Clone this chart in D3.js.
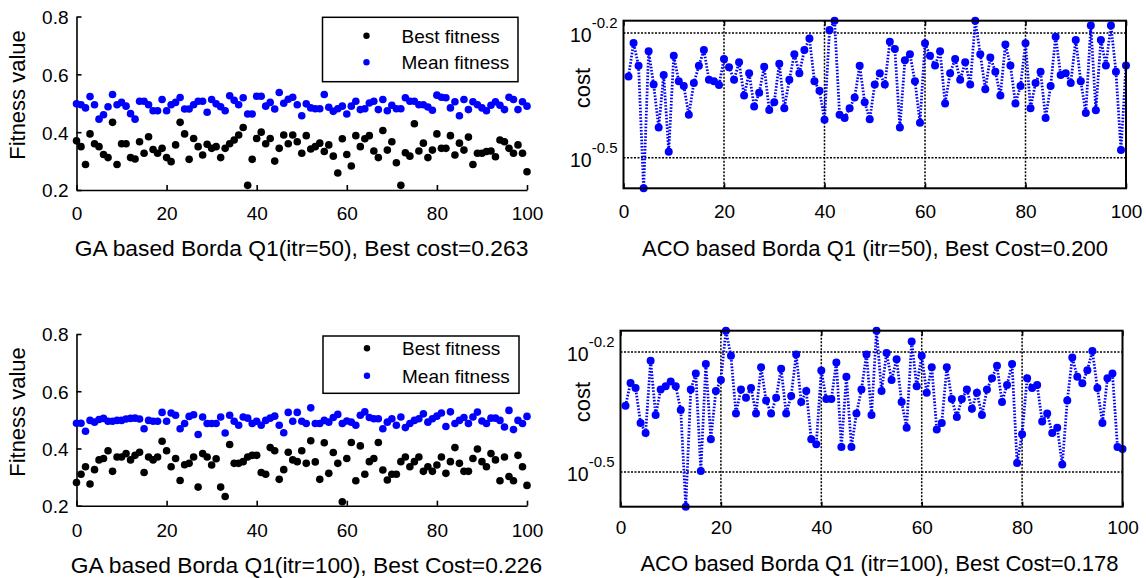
<!DOCTYPE html>
<html>
<head>
<meta charset="utf-8">
<script src="https://cdn.jsdelivr.net/npm/d3@7/dist/d3.min.js"></script>
<style>
body{margin:0;background:#fff}
svg{display:block}
</style>
</head>
<body>
<svg width="1146" height="578"></svg>
<script>
// tick values
var xTicks = [0,20,40,60,80,100]
var fitTicks = [0.2,0.4,0.6,0.8]
var costTickExp = [-0.5,-0.2]

// GA, itr=50 (iterations 0..100)
var gaBest50 = [0.370,0.35,0.288,0.394,0.36,0.35,0.323,0.312,0.434,0.288,
  0.36,0.36,0.312,0.307,0.367,0.327,0.384,0.34,0.327,0.344,
  0.312,0.298,0.356,0.434,0.394,0.306,0.378,0.35,0.321,0.358,
  0.344,0.35,0.312,0.344,0.36,0.373,0.39,0.416,0.216,0.306,
  0.378,0.40,0.36,0.378,0.3,0.344,0.39,0.36,0.39,0.367,
  0.327,0.388,0.342,0.35,0.362,0.333,0.356,0.317,0.259,0.377,
  0.323,0.283,0.388,0.35,0.377,0.388,0.335,0.312,0.406,0.338,
  0.367,0.294,0.216,0.329,0.317,0.429,0.335,0.362,0.312,0.338,
  0.394,0.344,0.344,0.388,0.321,0.362,0.338,0.383,0.288,0.327,
  0.327,0.333,0.335,0.315,0.373,0.367,0.344,0.327,0.356,0.327,
  0.263]
var gaMean50 = [0.498,0.495,0.484,0.523,0.495,0.445,0.46,0.488,0.53,0.495,
  0.503,0.49,0.464,0.445,0.507,0.507,0.495,0.474,0.474,0.513,
  0.474,0.495,0.503,0.52,0.48,0.48,0.495,0.507,0.507,0.469,
  0.513,0.498,0.488,0.474,0.526,0.51,0.495,0.519,0.463,0.463,
  0.524,0.524,0.49,0.503,0.48,0.537,0.5,0.514,0.521,0.495,
  0.457,0.498,0.484,0.481,0.481,0.530,0.486,0.472,0.481,0.49,
  0.463,0.49,0.507,0.478,0.481,0.501,0.507,0.478,0.513,0.474,
  0.493,0.481,0.481,0.519,0.507,0.507,0.495,0.495,0.487,0.476,
  0.528,0.521,0.519,0.484,0.505,0.457,0.513,0.478,0.505,0.495,
  0.484,0.474,0.493,0.505,0.493,0.478,0.521,0.513,0.478,0.505,
  0.49]

// ACO, itr=50 (iterations 1..100)
var acoCost50 = [0.496,0.597,0.526,0.267,0.570,0.474,0.374,0.500,0.327,0.556,
  0.483,0.470,0.401,0.478,0.526,0.574,0.487,0.483,0.473,0.546,
  0.522,0.487,0.536,0.446,0.505,0.420,0.453,0.523,0.412,0.430,
  0.532,0.416,0.487,0.561,0.505,0.574,0.612,0.483,0.458,0.390,
  0.641,0.675,0.401,0.394,0.416,0.441,0.526,0.430,0.391,0.474,
  0.505,0.474,0.601,0.577,0.374,0.542,0.561,0.483,0.384,0.596,
  0.556,0.527,0.570,0.427,0.505,0.546,0.487,0.536,0.474,0.675,
  0.561,0.462,0.551,0.509,0.446,0.592,0.527,0.427,0.470,0.596,
  0.416,0.478,0.509,0.394,0.470,0.618,0.500,0.505,0.478,0.607,
  0.483,0.405,0.657,0.411,0.607,0.527,0.657,0.509,0.330,0.527]

// GA, itr=100
var gaBest100 = [0.281,0.310,0.336,0.276,0.326,0.360,0.365,0.392,0.320,0.370,
  0.370,0.382,0.360,0.376,0.387,0.316,0.370,0.360,0.370,0.425,
  0.392,0.336,0.365,0.288,0.343,0.348,0.370,0.265,0.382,0.370,
  0.342,0.364,0.265,0.232,0.414,0.348,0.348,0.354,0.370,0.376,
  0.376,0.316,0.310,0.403,0.392,0.292,0.326,0.387,0.360,0.354,
  0.392,0.348,0.427,0.353,0.292,0.420,0.313,0.386,0.348,0.214,
  0.365,0.421,0.287,0.409,0.310,0.354,0.365,0.421,0.325,0.290,
  0.310,0.310,0.354,0.370,0.336,0.354,0.370,0.320,0.336,0.320,
  0.342,0.370,0.313,0.354,0.403,0.348,0.320,0.320,0.365,0.398,
  0.354,0.336,0.382,0.360,0.287,0.370,0.302,0.287,0.376,0.336,
  0.271]
var gaMean100 = [0.488,0.488,0.460,0.498,0.492,0.501,0.505,0.495,0.495,0.498,
  0.498,0.503,0.505,0.506,0.503,0.469,0.498,0.495,0.495,0.526,
  0.495,0.524,0.516,0.469,0.487,0.512,0.518,0.449,0.510,0.487,
  0.487,0.487,0.510,0.454,0.516,0.495,0.481,0.510,0.506,0.487,
  0.495,0.481,0.498,0.506,0.513,0.481,0.455,0.526,0.495,0.526,
  0.495,0.487,0.542,0.487,0.487,0.498,0.492,0.508,0.519,0.487,
  0.496,0.492,0.481,0.516,0.528,0.508,0.504,0.504,0.469,0.492,
  0.504,0.481,0.510,0.473,0.487,0.498,0.504,0.521,0.492,0.504,
  0.513,0.524,0.477,0.528,0.487,0.498,0.508,0.487,0.510,0.527,
  0.496,0.487,0.506,0.506,0.498,0.475,0.533,0.466,0.498,0.487,
  0.512]

// ACO, itr=100
var acoCost100 = [0.463,0.528,0.513,0.419,0.396,0.600,0.439,0.508,0.518,0.532,
  0.518,0.452,0.259,0.508,0.557,0.318,0.589,0.382,0.504,0.537,
  0.713,0.617,0.443,0.508,0.485,0.513,0.443,0.578,0.477,0.443,
  0.485,0.573,0.443,0.490,0.622,0.473,0.504,0.382,0.371,0.567,
  0.481,0.481,0.594,0.365,0.547,0.365,0.443,0.508,0.622,0.439,
  0.713,0.504,0.627,0.537,0.605,0.473,0.408,0.670,0.518,0.617,
  0.499,0.578,0.404,0.419,0.578,0.481,0.434,0.481,0.508,0.455,
  0.499,0.439,0.508,0.542,0.583,0.473,0.522,0.589,0.333,0.393,
  0.542,0.513,0.522,0.423,0.443,0.396,0.408,0.330,0.477,0.611,
  0.547,0.527,0.568,0.634,0.513,0.419,0.542,0.557,0.365,0.361]

var legendNames = ["Best fitness","Mean fitness"]

var font = '"Liberation Sans", Arial, Helvetica, sans-serif'
var blue = "#0000ff"
var svg = d3.select("svg").style("font-family", font)

var styleAxis = function(sel, size) {
    sel.attr("font-family", font).attr("font-size", size)
    sel.selectAll("path,line").attr("stroke", "#000").attr("stroke-width", 1.6)
    sel.selectAll("text").attr("fill", "#000")
}

var drawGA = function(p, best, mean, title) {
    var xScale = d3.scaleLinear().domain([0,100]).range([p.left, p.right])
    var yScale = d3.scaleLinear().domain([0.2,0.8]).range([p.bottom, p.top])
    var g = svg.append("g")

    var xa = g.append("g")
        .attr("transform","translate(0,"+p.bottom+")")
        .call(d3.axisBottom(xScale).tickValues(xTicks).tickSizeInner(-5).tickSizeOuter(0))
    styleAxis(xa, 19)
    xa.selectAll("text").attr("dy", null).attr("y", p.tickBase - p.bottom)

    var ya = g.append("g")
        .attr("transform","translate("+p.left+",0)")
        .call(d3.axisLeft(yScale).tickValues(fitTicks).tickFormat(d3.format(".1f"))
            .tickSizeInner(-5).tickSizeOuter(0).tickPadding(8))
    styleAxis(ya, 19)
    ya.selectAll("text").attr("dy", "0.36em")

    g.selectAll(".best")
        .data(best)
        .enter()
        .append("circle")
        .attr("cx", function(d,i){ return xScale(i) })
        .attr("cy", function(d){ return yScale(d) })
        .attr("r", 3.8)
        .attr("fill", "#000")

    g.selectAll(".mean")
        .data(mean)
        .enter()
        .append("circle")
        .attr("cx", function(d,i){ return xScale(i) })
        .attr("cy", function(d){ return yScale(d) })
        .attr("r", 3.8)
        .attr("fill", blue)

    // legend
    var lg = g.append("g")
    lg.append("rect")
        .attr("x", p.leg.x).attr("y", p.leg.y)
        .attr("width", p.leg.w).attr("height", p.leg.h)
        .attr("fill", "#fff").attr("stroke", "#000").attr("stroke-width", 1.5)
    lg.selectAll("circle")
        .data(legendNames)
        .enter()
        .append("circle")
        .attr("cx", p.leg.x + 44)
        .attr("cy", function(d,i){ return p.leg.row0 + i*p.leg.gap })
        .attr("r", 3.2)
        .attr("fill", function(d,i){ return i == 0 ? "#000" : blue })
    lg.selectAll("text")
        .data(legendNames)
        .enter()
        .append("text")
        .attr("x", p.leg.x + 79)
        .attr("y", function(d,i){ return p.leg.row0 + i*p.leg.gap + 7 })
        .attr("font-size", 19)
        .text(function(d){ return d })

    g.append("text")
        .attr("transform", "translate(25,"+p.ylabY+") rotate(-90)")
        .attr("text-anchor", "middle")
        .attr("font-size", 22)
        .text("Fitness value")

    g.append("text")
        .attr("x", p.titleX).attr("y", p.titleY)
        .attr("text-anchor", "middle")
        .attr("font-size", 22.8)
        .text(title)
}

var drawACO = function(p, cost, title) {
    var xScale = d3.scaleLinear().domain([0,100]).range([p.left, p.right])
    var yScale = d3.scaleLog().domain(d3.extent(cost)).range([p.bottom, p.top])
    var g = svg.append("g")

    // grid
    g.selectAll(".vgrid")
        .data(xTicks.slice(1, -1))
        .enter()
        .append("line")
        .attr("x1", function(d){ return xScale(d) })
        .attr("x2", function(d){ return xScale(d) })
        .attr("y1", p.top).attr("y2", p.bottom)
        .attr("stroke", "#000").attr("stroke-width", 1.5)
        .attr("stroke-dasharray", "2,1.5")
    g.selectAll(".hgrid")
        .data(costTickExp)
        .enter()
        .append("line")
        .attr("x1", p.left).attr("x2", p.right)
        .attr("y1", function(d){ return yScale(Math.pow(10, d)) })
        .attr("y2", function(d){ return yScale(Math.pow(10, d)) })
        .attr("stroke", "#000").attr("stroke-width", 1.5)
        .attr("stroke-dasharray", "2,1.5")

    var xa = g.append("g")
        .attr("transform","translate(0,"+p.bottom+")")
        .call(d3.axisBottom(xScale).tickValues(xTicks).tickSizeInner(-5).tickSizeOuter(0))
    styleAxis(xa, 19)
    xa.select(".domain").remove()
    xa.selectAll("text").attr("dy", null).attr("y", p.tickBase - p.bottom)

    var xt = g.append("g")
        .attr("transform","translate(0,"+p.top+")")
        .call(d3.axisTop(xScale).tickValues(xTicks).tickSizeInner(-5).tickSizeOuter(0).tickFormat(""))
    styleAxis(xt, 19)
    xt.select(".domain").remove()

    // y tick labels 10^e
    var yl = g.selectAll(".ylab")
        .data(costTickExp)
        .enter()
        .append("text")
        .attr("x", p.left - 6)
        .attr("y", function(d){ return yScale(Math.pow(10, d)) + 9 })
        .attr("text-anchor", "end")
        .attr("font-size", 19.5)
    yl.append("tspan").text("10")
    yl.append("tspan")
        .attr("dy", -14)
        .attr("font-size", 15)
        .text(function(d){ return d.toFixed(1) })

    var line = d3.line()
        .x(function(d,i){ return xScale(i+1) })
        .y(function(d){ return yScale(d) })
    g.append("path")
        .datum(cost)
        .attr("d", line)
        .attr("fill", "none")
        .attr("stroke", blue)
        .attr("stroke-width", 2.8)
        .attr("stroke-dasharray", "1.6,1.6")

    g.selectAll(".pt")
        .data(cost)
        .enter()
        .append("circle")
        .attr("cx", function(d,i){ return xScale(i+1) })
        .attr("cy", function(d){ return yScale(d) })
        .attr("r", 4)
        .attr("fill", blue)

    g.append("rect")
        .attr("x", p.left).attr("y", p.top)
        .attr("width", p.right - p.left).attr("height", p.bottom - p.top)
        .attr("fill", "none").attr("stroke", "#000").attr("stroke-width", 2)

    g.append("text")
        .attr("transform", "translate(590,"+p.ylabY+") rotate(-90)")
        .attr("text-anchor", "middle")
        .attr("font-size", 22)
        .text("cost")

    g.append("text")
        .attr("x", p.titleX).attr("y", p.titleY)
        .attr("text-anchor", "middle")
        .attr("font-size", 22)
        .text(title)
}

drawGA({left:76.5, right:527, top:16.5, bottom:190, tickBase:220, ylabY:95,
        titleX:301.5, titleY:256,
        leg:{x:322.5, y:17.3, w:195.5, h:64.4, row0:35.7, gap:26.6}},
    gaBest50, gaMean50, "GA based Borda Q1(itr=50), Best cost=0.263")

drawACO({left:623.5, right:1126, top:20.7, bottom:188.3, tickBase:218, ylabY:88,
         titleX:875, titleY:256},
    acoCost50, "ACO based Borda Q1 (itr=50), Best Cost=0.200")

drawGA({left:76.5, right:527, top:334, bottom:505.7, tickBase:537, ylabY:412,
        titleX:306.5, titleY:573,
        leg:{x:323, y:336, w:196, h:57.3, row0:348.3, gap:27.4}},
    gaBest100, gaMean100, "GA based Borda Q1(itr=100), Best Cost=0.226")

drawACO({left:620.5, right:1122.5, top:330.7, bottom:506.7, tickBase:534, ylabY:402,
         titleX:879.5, titleY:571},
    acoCost100, "ACO based Borda Q1 (itr=100), Best Cost=0.178")
</script>
</body>
</html>
